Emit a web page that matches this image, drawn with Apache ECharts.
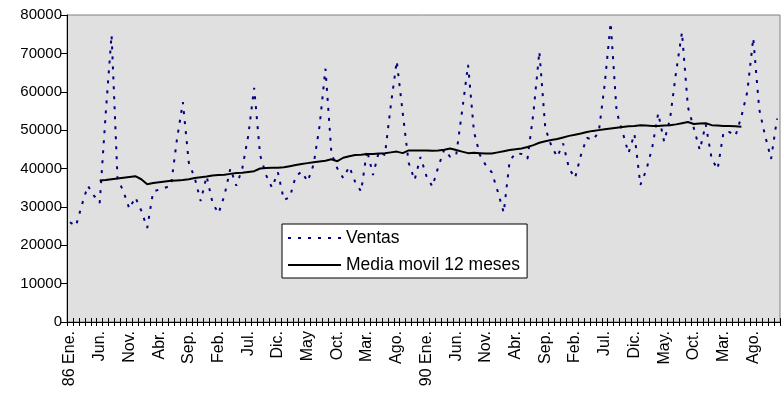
<!DOCTYPE html>
<html>
<head>
<meta charset="utf-8">
<script src="https://cdn.jsdelivr.net/npm/echarts@6/dist/echarts.min.js"></script>
<style>
  html, body { margin: 0; padding: 0; background: #fff; }
  #chart { width: 782px; height: 418px; }
</style>
</head>
<body>
<div id="chart"></div>
<script>
// Etiquetas del eje X (una cada 5 meses)
var tickLabels = ["86 Ene.", "Jun.", "Nov.", "Abr.", "Sep.", "Feb.", "Jul.", "Dic.", "May", "Oct.", "Mar.", "Ago.",
                  "90 Ene.", "Jun.", "Nov.", "Abr.", "Sep.", "Feb.", "Jul.", "Dic.", "May.", "Oct.", "Mar.", "Ago."];
var monthNames = ["Ene.", "Feb.", "Mar.", "Abr.", "May", "Jun.", "Jul.", "Ago.", "Sep.", "Oct.", "Nov.", "Dic."];
var years = [86, 87, 88, 89, 90, 91, 92, 93, 94, 95];

// Ventas mensuales
var ventas = [
  26000, 25000, 30500, 35500, 33000, 31000, 54000, 74800, 37500, 34000, 29500, 32500,
  29000, 24500, 34000, 34500, 35000, 35500, 47500, 57300, 41500, 37500, 31500, 38000,
  31000, 28300, 33000, 40000, 35500, 40000, 48500, 61000, 43500, 38300, 35000, 39000,
  31800, 32500, 38000, 39200, 36600, 41000, 51000, 66000, 44000, 40000, 37500, 40500,
  36500, 34000, 44800, 38300, 44500, 43500, 56500, 68000, 54500, 41500, 37000, 43000,
  38000, 35300, 40500, 45000, 43000, 43500, 55000, 67000, 49500, 43500, 40800, 39000,
  34000, 28500, 42000, 44000, 43800, 42500, 54500, 70500, 50500, 46000, 43000, 46500,
  40000, 37500, 43500, 48000, 47400, 49500, 62000, 78000, 54800, 49500, 44000, 49000,
  35700, 39600, 45500, 54400, 47000, 53000, 65000, 75500, 56000, 50500, 44800, 51500,
  42500, 39800, 49500, 49500, 48500, 53500, 60000, 74000, 55500, 48500, 42500, 53000
];

// Media movil 12 meses (desde el sexto mes)
var maStart = 5;
var mediaMovil = [
  36900, 37000, 37200, 37400, 37600, 37800, 38000, 37200, 35900, 36200,
  36400, 36600, 36800, 36900, 37000, 37200, 37500, 37700, 37900, 38200,
  38300, 38400, 38600, 38800, 38900, 39100, 39300, 40000, 40100, 40200,
  40200, 40300, 40600, 40900, 41200, 41400, 41600, 41800, 42000, 42400,
  41900, 42800, 43200, 43500, 43600, 43800, 43800, 43900, 44000, 44200,
  44400, 44000, 44700, 44700, 44700, 44700, 44600, 44700, 44900, 45200,
  44800, 44400, 44000, 44100, 44000, 43900, 43900, 44200, 44500, 44800,
  45000, 45200, 45600, 46100, 46700, 47100, 47400, 47700, 48100, 48500,
  48800, 49100, 49500, 49800, 50000, 50200, 50400, 50600, 50800, 51000,
  51100, 51300, 51200, 51100, 51100, 51200, 51300, 51500, 51800, 52100,
  51600, 51700, 51800, 51300, 51200, 51100, 51100, 51000, 50900
];

var categories = [];
years.forEach(function (y) {
  monthNames.forEach(function (m) { categories.push(y + " " + m); });
});

var maSeries = categories.map(function (c, i) {
  var k = i - maStart;
  return (k >= 0 && k < mediaMovil.length) ? mediaMovil[k] : null;
});

var chart = echarts.init(document.getElementById("chart"));
var font = "Liberation Sans, Arial, sans-serif";

chart.setOption({
  animation: false,
  backgroundColor: "#ffffff",
  grid: {
    left: 67, right: 2, top: 15, bottom: 96,
    show: true,
    backgroundColor: "#e0e0e0",
    borderColor: "#808080",
    borderWidth: 1
  },
  legend: {
    left: 282, top: 224,
    orient: "vertical",
    backgroundColor: "#ffffff",
    borderColor: "#000000",
    borderWidth: 1,
    padding: [5, 7, 4, 5],
    itemWidth: 53,
    itemHeight: 14,
    itemGap: 9,
    itemStyle: { opacity: 0 },
    textStyle: { fontFamily: font, fontSize: 17.5, color: "#000", lineHeight: 17 },
    data: ["Ventas", "Media movil 12 meses"]
  },
  xAxis: [
    {
      type: "category",
      data: categories,
      boundaryGap: true,
      axisLine: { lineStyle: { color: "#000", width: 1 } },
      axisTick: { show: true, interval: 0, length: 4, lineStyle: { color: "#000" } },
      axisLabel: {
        interval: 4,
        rotate: 90,
        margin: 9,
        fontFamily: font,
        fontSize: 16,
        color: "#000",
        formatter: function (v, idx) { return tickLabels[idx / 5] || ""; }
      },
      splitLine: { show: false }
    },
    {
      type: "category",
      data: categories,
      boundaryGap: true,
      position: "bottom",
      axisLine: { show: false },
      axisTick: { show: true, inside: true, interval: 0, length: 4, lineStyle: { color: "#000" } },
      axisLabel: { show: false },
      splitLine: { show: false }
    }
  ],
  yAxis: {
    type: "value",
    min: 0, max: 80000, interval: 10000,
    axisLine: { show: true, lineStyle: { color: "#000", width: 1 } },
    axisTick: { show: true, length: 6, lineStyle: { color: "#000" } },
    axisLabel: {
      margin: 5, fontFamily: font, fontSize: 15, color: "#000",
      formatter: function (v) { return String(v); }
    },
    splitLine: { show: false }
  },
  series: [
    {
      name: "Ventas",
      type: "line",
      xAxisIndex: 0,
      data: ventas,
      symbol: "none",
      lineStyle: { color: "#000080", width: 2, type: [3, 7] },
      itemStyle: { color: "#000080" },
      z: 2
    },
    {
      name: "Media movil 12 meses",
      type: "line",
      xAxisIndex: 0,
      data: maSeries,
      symbol: "none",
      connectNulls: false,
      lineStyle: { color: "#000000", width: 2 },
      itemStyle: { color: "#000000" },
      z: 3
    }
  ]
});

window.addEventListener("resize", function () {
  chart.resize();
});
</script>
</body>
</html>
